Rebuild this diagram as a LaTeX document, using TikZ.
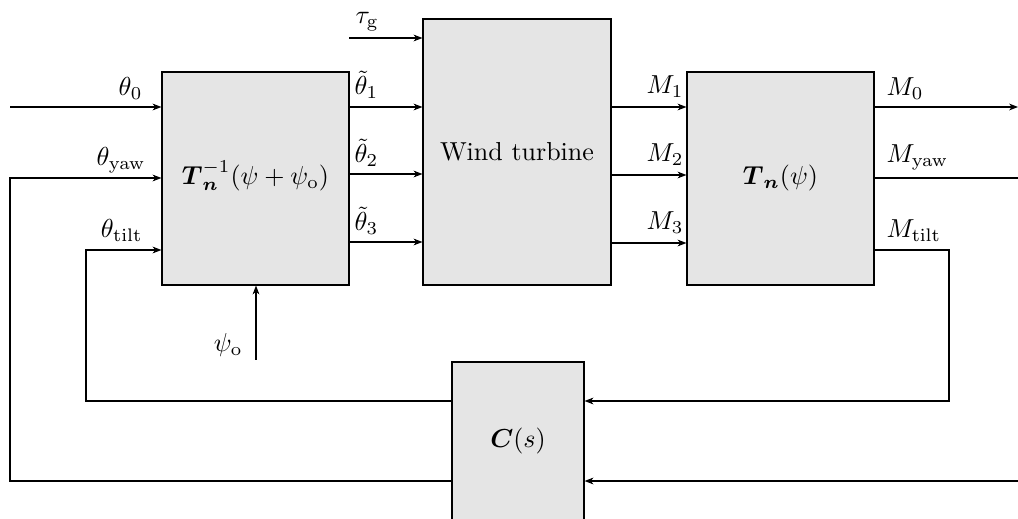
\documentclass[tikz,border=0pt]{standalone}
\usepackage{amsmath,amssymb}
\usetikzlibrary{arrows.meta,fit}
\newcommand{\lowr}[1]{\raisebox{-3.5pt}[\height][\depth]{#1}}
\begin{document}
\begin{tikzpicture}[x=0.3846pt,y=-0.3846pt,
  blk/.style={draw, fill=black!10, inner sep=0pt, line width=0.45pt},
  arr/.style={-{Stealth[length=3.4pt,width=2.6pt,inset=1pt]}},
  ln/.style={line width=0.4pt}]
\useasboundingbox (0,0) rectangle (1018,519);
% blocks
\node[blk, fit={(162,72) (349,285)}] (b1) {\lowr{$\boldsymbol{T}_{\boldsymbol{n}}^{-1}(\psi+\psi_\mathrm{o})$}};
\node[blk, fit={(423,19) (611,285)}] (wt) {\lowr{Wind turbine}};
\node[blk, fit={(687,72) (874,285)}] (b3) {\lowr{$\boldsymbol{T}_{\boldsymbol{n}}(\psi)$}};
\node[blk, fit={(452,362) (584,522)}] (c) {\lowr{$\boldsymbol{C}(s)$}};
% coordinates
\coordinate (in0) at (10,107);
\coordinate (yawL) at (10,178);
\coordinate (tiltL) at (86,250);
\coordinate (tau) at (349,38);
\coordinate (psio) at (256,360);
\coordinate (out0) at (1018,107);
\coordinate (outyaw) at (1018,178);
\coordinate (tiltR) at (949,250);
\coordinate (botR) at (1018,481);
% inputs to b1
\draw[ln,arr] (in0) -- (in0 -| b1.west);
\draw[ln,arr] (c.west |- 0,481) -- (10,481) -- (yawL) -- (yawL -| b1.west);
\draw[ln,arr] (c.west |- 0,401) -- (86,401) -- (tiltL) -- (tiltL -| b1.west);
\draw[ln,arr] (psio) -- (psio |- b1.south);
% b1 to wt
\draw[ln,arr] (b1.east |- 0,107) -- (wt.west |- 0,107);
\draw[ln,arr] (b1.east |- 0,174) -- (wt.west |- 0,174);
\draw[ln,arr] (b1.east |- 0,242) -- (wt.west |- 0,242);
\draw[ln,arr] (tau) -- (tau -| wt.west);
% wt to b3
\draw[ln,arr] (wt.east |- 0,107) -- (b3.west |- 0,107);
\draw[ln,arr] (wt.east |- 0,175) -- (b3.west |- 0,175);
\draw[ln,arr] (wt.east |- 0,243) -- (b3.west |- 0,243);
% outputs
\draw[ln,arr] (b3.east |- out0) -- (out0);
\draw[ln] (b3.east |- outyaw) -- (outyaw);
\draw[ln,arr] (b3.east |- tiltR) -- (tiltR) -- (949,401) -- (c.east |- 0,401);
\draw[ln,arr] (botR) -- (c.east |- botR);
% labels
\node[anchor=base east, inner sep=0pt] (l0) at (143,96) {$\theta_0$};
\node[anchor=base east, inner sep=0pt] (lyaw) at (146,166) {$\theta_\mathrm{yaw}$};
\node[anchor=base east, inner sep=0pt] (ltilt) at (143,238) {$\theta_\mathrm{tilt}$};
\node[anchor=base west, inner sep=0pt] (lt1) at (354,95) {$\tilde\theta_1$};
\node[anchor=base west, inner sep=0pt] (lt2) at (354,163) {$\tilde\theta_2$};
\node[anchor=base west, inner sep=0pt] (lt3) at (354,231) {$\tilde\theta_3$};
\node[anchor=base west, inner sep=0pt] (ltau) at (355,24) {$\tau_\mathrm{g}$};
\node[anchor=base east, inner sep=0pt] (lm1) at (684,94) {$M_1$};
\node[anchor=base east, inner sep=0pt] (lm2) at (684,162) {$M_2$};
\node[anchor=base east, inner sep=0pt] (lm3) at (684,230) {$M_3$};
\node[anchor=base west, inner sep=0pt] (lm0) at (886,96) {$M_0$};
\node[anchor=base west, inner sep=0pt] (lmyaw) at (886,163) {$M_\mathrm{yaw}$};
\node[anchor=base west, inner sep=0pt] (lmtilt) at (886,238) {$M_\mathrm{tilt}$};
\node[anchor=base east, inner sep=0pt] (lpsi) at (243,352) {$\psi_\mathrm{o}$};
\end{tikzpicture}
\end{document}
